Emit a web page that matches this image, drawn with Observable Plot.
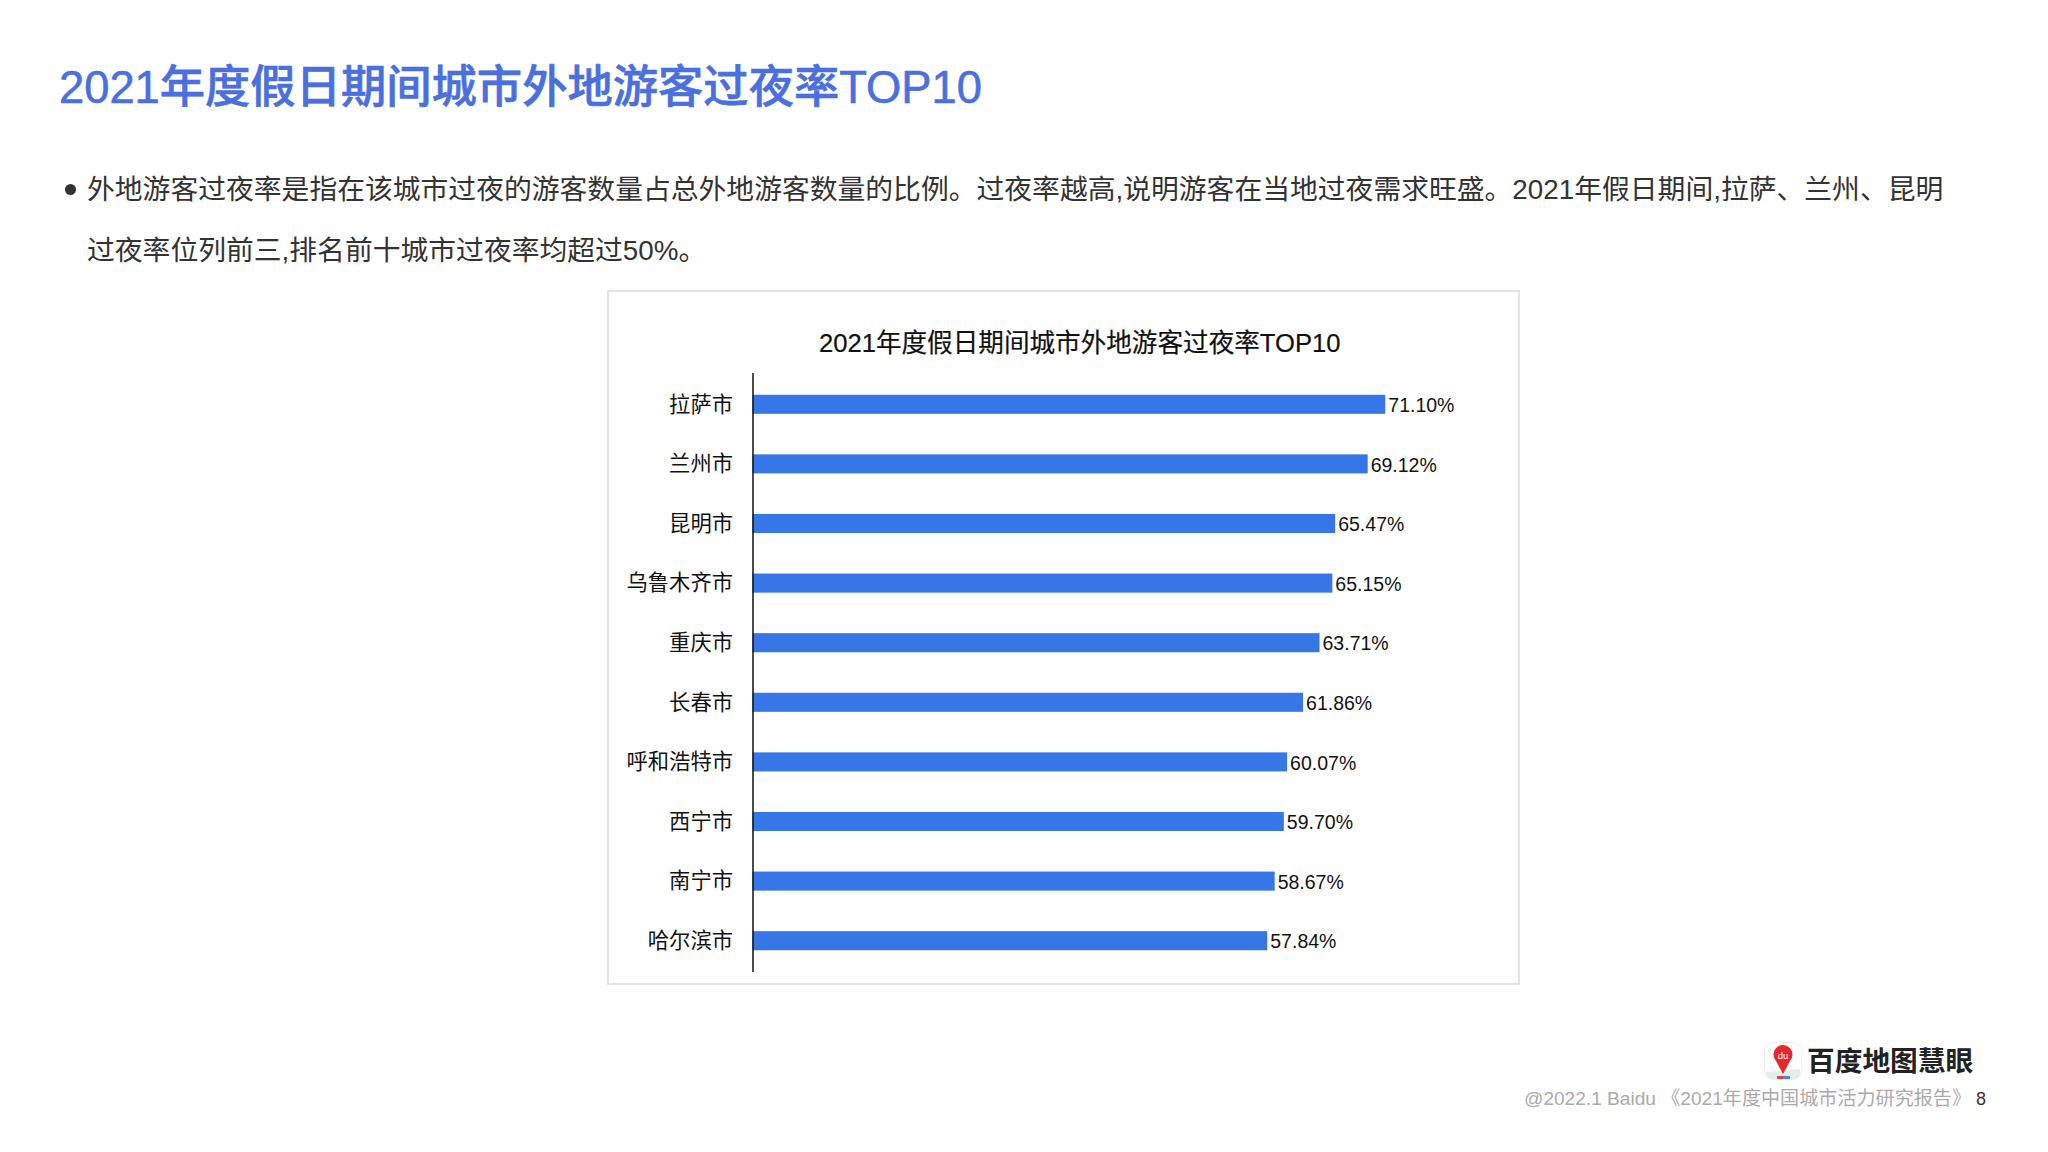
<!DOCTYPE html>
<html lang="zh-CN">
<head>
<meta charset="utf-8">
<script src="https://cdn.jsdelivr.net/npm/d3@7"></script>
<script src="https://cdn.jsdelivr.net/npm/@observablehq/plot@0.6"></script>
<style>
html,body{margin:0;padding:0;background:#fff;}
#page{position:relative;width:2048px;height:1152px;overflow:hidden;font-family:"Liberation Sans","Noto Sans CJK SC",sans-serif;}
#page>*{position:absolute;white-space:nowrap;}
#title{left:59px;top:62px;line-height:52px;font-size:45.3px;font-weight:500;color:#4a6fdf;-webkit-text-stroke:0.6px #4a6fdf;}
.body{left:87px;font-size:27.8px;line-height:40px;color:#333;}
#bullet{left:65px;top:184px;width:11px;height:11px;border-radius:50%;background:#333;}
#card{left:607px;top:290px;width:913px;height:695px;box-sizing:border-box;border:2px solid #e3e3e3;}
#chartTitle{left:819px;top:326px;line-height:34px;font-size:25.6px;color:#111;-webkit-text-stroke:0.2px #111;}
#chart{left:608px;top:373px;}
#chart svg{display:block;overflow:visible;}
#logoText{left:1807px;top:1045px;line-height:34px;font-size:27.7px;font-weight:700;color:#222;}
#logo{left:1764px;top:1042px;}
#foot{left:1524px;top:1087px;line-height:24px;font-size:19.1px;color:#aaa;}
#page8{left:1976px;top:1087px;line-height:24px;font-size:18px;color:#333;}
</style>
</head>
<body>
<div id="page">
  <div id="title">2021年度假日期间城市外地游客过夜率TOP10</div>
  <div id="bullet"></div>
  <div class="body" style="top:170px">外地游客过夜率是指在该城市过夜的游客数量占总外地游客数量的比例。过夜率越高,说明游客在当地过夜需求旺盛。2021年假日期间,拉萨、兰州、昆明</div>
  <div class="body" style="top:231px">过夜率位列前三,排名前十城市过夜率均超过50%。</div>
  <div id="card"></div>
  <div id="chartTitle">2021年度假日期间城市外地游客过夜率TOP10</div>
  <div id="chart"></div>
  <svg id="logo" width="38" height="38" viewBox="0 0 38 38">
    <rect x="0.5" y="0.5" width="37" height="37" rx="9" fill="#fff" stroke="#eee"/>
    <path d="M2 30 L36 27 L36 30 Q36 37 29 37 L9 37 Q2 37 2 30Z" fill="#e3efe6"/>
    <rect x="13" y="34" width="6" height="3" fill="#d9414f"/>
    <rect x="19" y="34" width="7" height="3" fill="#4a86e0"/>
    <path d="M19 32 L12 19 A9.5 9.5 0 1 1 26 19 Z" fill="#e8262d"/>
    <text x="19" y="16.5" text-anchor="middle" font-size="9.5" font-family="Liberation Sans" fill="#fff">du</text>
  </svg>
  <div id="logoText">百度地图慧眼</div>
  <div id="foot">@2022.1 Baidu 《2021年度中国城市活力研究报告》</div>
  <div id="page8">8</div>
</div>
<script>
const cities = ["拉萨市","兰州市","昆明市","乌鲁木齐市","重庆市","长春市","呼和浩特市","西宁市","南宁市","哈尔滨市"];
const rates = [71.10,69.12,65.47,65.15,63.71,61.86,60.07,59.70,58.67,57.84];
const rows = cities.map((city,i)=>({city,rate:rates[i]}));

const chart = Plot.plot({
  width:910,
  height:599,
  marginTop:0,
  marginBottom:0,
  marginLeft:144.5,
  marginRight:53.5,
  style:{fontFamily:'"Liberation Sans","Noto Sans CJK SC",sans-serif',background:"transparent",color:"#111"},
  x:{domain:[0,80],axis:null},
  y:{domain:cities,paddingInner:0.68,paddingOuter:0.365,round:false,label:null},
  marks:[
    Plot.barX(rows,{x:"rate",y:"city",fill:"#3776e6"}),
    Plot.ruleX([0],{stroke:"#111",strokeWidth:1.5}),
    Plot.axisY({tickSize:0,tickPadding:20,fontSize:21.3,label:null}),
    Plot.text(rows,{x:"rate",y:"city",text:d=>d.rate.toFixed(2)+"%",textAnchor:"start",dx:2.5,dy:1,fontSize:19.5,fill:"#111"})
  ]
});
document.getElementById("chart").append(chart);
</script>
</body>
</html>
